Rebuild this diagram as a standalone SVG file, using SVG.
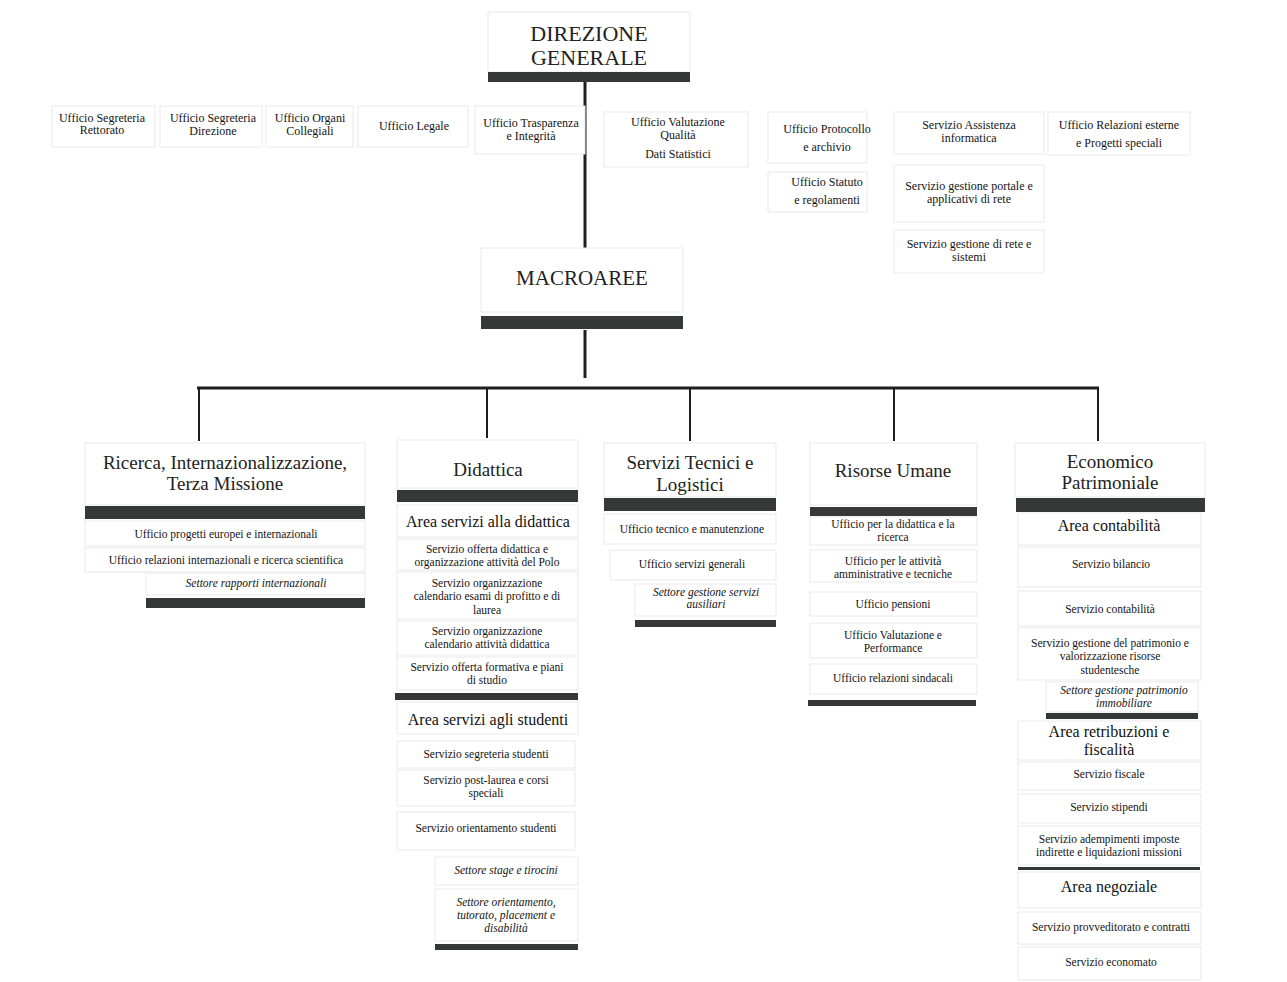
<svg xmlns="http://www.w3.org/2000/svg" width="1287" height="982" viewBox="0 0 1287 982">
<style>
.bg{fill:#ffffff}
.box{fill:#ffffff;stroke:#e9e9e9;stroke-width:1}
.bar{fill:#363838}
.ln{stroke:#1e1e1e;fill:none}
text{font-family:"Liberation Serif","Times New Roman",serif;fill:#141414;text-anchor:middle}
.s{font-size:12px}
.i{font-size:11.5px}
.it{font-size:11.5px;font-style:italic}
.h{font-size:19px;fill:#222}
.a{font-size:16px;fill:#111}
.big{font-size:22px;fill:#222}
</style>
<rect class="bg" x="0" y="0" width="1287" height="982"/>

<g id="connectors">
<line class="ln" x1="585" y1="82" x2="585" y2="248" stroke-width="3"/>
<line class="ln" x1="585" y1="330" x2="585" y2="378" stroke-width="3"/>
<line class="ln" x1="197" y1="388" x2="1099" y2="388" stroke-width="3"/>
<line class="ln" x1="199" y1="388" x2="199" y2="441" stroke-width="2"/>
<line class="ln" x1="487" y1="388" x2="487" y2="438" stroke-width="2"/>
<line class="ln" x1="690" y1="388" x2="690" y2="441" stroke-width="2"/>
<line class="ln" x1="894" y1="388" x2="894" y2="441" stroke-width="2"/>
<line class="ln" x1="1098" y1="388" x2="1098" y2="441" stroke-width="2"/>
</g>

<g id="direzione-generale">
<rect class="box" x="488" y="12" width="202" height="60"/>
<rect class="bar" x="488" y="72" width="202" height="10"/>
<text class="big" x="589" y="41">DIREZIONE</text>
<text class="big" x="589" y="65">GENERALE</text>
</g>

<g id="macroaree">
<rect class="box" x="481" y="248" width="202" height="64"/>
<rect class="bar" x="481" y="316" width="202" height="13"/>
<text class="big" x="582" y="285" style="font-size:21px">MACROAREE</text>
</g>

<g id="uff-segreteria-rettorato">
<rect class="box" x="52" y="106" width="103" height="41"/>
<text class="s" x="102" y="122">Ufficio Segreteria</text>
<text class="s" x="102" y="134">Rettorato</text>
</g>
<g id="uff-segreteria-direzione">
<rect class="box" x="160" y="106" width="102" height="41"/>
<text class="s" x="213" y="122">Ufficio Segreteria</text>
<text class="s" x="213" y="135">Direzione</text>
</g>
<g id="uff-organi-collegiali">
<rect class="box" x="266" y="106" width="87" height="41"/>
<text class="s" x="310" y="122">Ufficio Organi</text>
<text class="s" x="310" y="135">Collegiali</text>
</g>
<g id="uff-legale">
<rect class="box" x="358" y="106" width="110" height="41"/>
<text class="s" x="414" y="130">Ufficio Legale</text>
</g>
<g id="uff-trasparenza">
<rect class="box" x="475" y="106" width="110" height="48"/>
<text class="s" x="531" y="127">Ufficio Trasparenza</text>
<text class="s" x="531" y="140">e Integrità</text>
</g>
<g id="uff-valutazione-qualita">
<rect class="box" x="604" y="112" width="144" height="55"/>
<text class="s" x="678" y="126">Ufficio Valutazione</text>
<text class="s" x="678" y="139">Qualità</text>
<text class="s" x="678" y="158">Dati Statistici</text>
</g>
<g id="uff-protocollo">
<rect class="box" x="768" y="112" width="99" height="51"/>
<text class="s" x="827" y="133">Ufficio Protocollo</text>
<text class="s" x="827" y="151">e archivio</text>
</g>
<g id="uff-statuto">
<rect class="box" x="768" y="172" width="99" height="40"/>
<text class="s" x="827" y="186">Ufficio Statuto</text>
<text class="s" x="827" y="204">e regolamenti</text>
</g>
<g id="serv-assistenza-informatica">
<rect class="box" x="894" y="112" width="150" height="42"/>
<text class="s" x="969" y="129">Servizio Assistenza</text>
<text class="s" x="969" y="142">informatica</text>
</g>
<g id="serv-gestione-portale">
<rect class="box" x="894" y="165" width="150" height="57"/>
<text class="s" x="969" y="190">Servizio gestione portale e</text>
<text class="s" x="969" y="203">applicativi di rete</text>
</g>
<g id="serv-gestione-rete">
<rect class="box" x="894" y="230" width="150" height="43"/>
<text class="s" x="969" y="248">Servizio gestione di rete e</text>
<text class="s" x="969" y="261">sistemi</text>
</g>
<g id="uff-relazioni-esterne">
<rect class="box" x="1048" y="112" width="142" height="43"/>
<text class="s" x="1119" y="129">Ufficio Relazioni esterne</text>
<text class="s" x="1119" y="147">e Progetti speciali</text>
</g>

<g id="ricerca">
<rect class="box" x="85" y="443" width="280" height="62"/>
<text class="h" x="225" y="469">Ricerca, Internazionalizzazione,</text>
<text class="h" x="225" y="490">Terza Missione</text>
<rect class="bar" x="85" y="506" width="280" height="13"/>
<rect class="box" x="85" y="521" width="280" height="25"/>
<text class="i" x="226" y="538">Ufficio progetti europei e internazionali</text>
<rect class="box" x="85" y="548" width="280" height="24"/>
<text class="i" x="226" y="564">Ufficio relazioni internazionali e ricerca scientifica</text>
<rect class="box" x="146" y="573" width="219" height="22"/>
<text class="it" x="256" y="587">Settore rapporti internazionali</text>
<rect class="bar" x="146" y="598" width="219" height="10"/>
</g>

<g id="didattica">
<rect class="box" x="397" y="440" width="181" height="48"/>
<text class="h" x="488" y="476">Didattica</text>
<rect class="bar" x="397" y="490" width="181" height="12"/>
<rect class="box" x="397" y="505" width="181" height="32"/>
<text class="a" x="488" y="527">Area servizi alla didattica</text>
<rect class="box" x="397" y="539" width="181" height="31"/>
<text class="i" x="487" y="553">Servizio offerta didattica e</text>
<text class="i" x="487" y="566">organizzazione attività del Polo</text>
<rect class="box" x="397" y="572" width="181" height="47"/>
<text class="i" x="487" y="587">Servizio organizzazione</text>
<text class="i" x="487" y="600">calendario esami di profitto e di</text>
<text class="i" x="487" y="614">laurea</text>
<rect class="box" x="397" y="621" width="181" height="34"/>
<text class="i" x="487" y="635">Servizio organizzazione</text>
<text class="i" x="487" y="648">calendario attività didattica</text>
<rect class="box" x="397" y="657" width="181" height="33"/>
<text class="i" x="487" y="671">Servizio offerta formativa e piani</text>
<text class="i" x="487" y="684">di studio</text>
<rect class="bar" x="395" y="693" width="183" height="7"/>
<rect class="box" x="397" y="702" width="181" height="32"/>
<text class="a" x="488" y="725">Area servizi agli studenti</text>
<rect class="box" x="397" y="741" width="178" height="27"/>
<text class="i" x="486" y="758">Servizio segreteria studenti</text>
<rect class="box" x="397" y="770" width="178" height="36"/>
<text class="i" x="486" y="784">Servizio post-laurea e corsi</text>
<text class="i" x="486" y="797">speciali</text>
<rect class="box" x="397" y="812" width="178" height="38"/>
<text class="i" x="486" y="832">Servizio orientamento studenti</text>
<rect class="box" x="435" y="857" width="143" height="28"/>
<text class="it" x="506" y="874">Settore stage e tirocini</text>
<rect class="box" x="435" y="889" width="143" height="52"/>
<text class="it" x="506" y="906">Settore orientamento,</text>
<text class="it" x="506" y="919">tutorato, placement e</text>
<text class="it" x="506" y="932">disabilità</text>
<rect class="bar" x="435" y="944" width="143" height="6"/>
</g>

<g id="servizi-tecnici">
<rect class="box" x="604" y="443" width="172" height="54"/>
<text class="h" x="690" y="469">Servizi Tecnici e</text>
<text class="h" x="690" y="491">Logistici</text>
<rect class="bar" x="604" y="498" width="172" height="13"/>
<rect class="box" x="604" y="514" width="172" height="30"/>
<text class="i" x="692" y="533">Ufficio tecnico e manutenzione</text>
<rect class="box" x="610" y="550" width="166" height="30"/>
<text class="i" x="692" y="568">Ufficio servizi generali</text>
<rect class="box" x="635" y="584" width="141" height="32"/>
<text class="it" x="706" y="596">Settore gestione servizi</text>
<text class="it" x="706" y="608">ausiliari</text>
<rect class="bar" x="635" y="620" width="141" height="7"/>
</g>

<g id="risorse-umane">
<rect class="box" x="810" y="443" width="167" height="62"/>
<text class="h" x="893" y="477">Risorse Umane</text>
<rect class="bar" x="810" y="507" width="167" height="9"/>
<rect class="box" x="810" y="517" width="167" height="28"/>
<text class="i" x="893" y="528">Ufficio per la didattica e la</text>
<text class="i" x="893" y="541">ricerca</text>
<rect class="box" x="810" y="550" width="167" height="32"/>
<text class="i" x="893" y="565">Ufficio per le attività</text>
<text class="i" x="893" y="578">amministrative e tecniche</text>
<rect class="box" x="810" y="592" width="167" height="24"/>
<text class="i" x="893" y="608">Ufficio pensioni</text>
<rect class="box" x="810" y="623" width="167" height="35"/>
<text class="i" x="893" y="639">Ufficio Valutazione e</text>
<text class="i" x="893" y="652">Performance</text>
<rect class="box" x="810" y="664" width="167" height="30"/>
<text class="i" x="893" y="682">Ufficio relazioni sindacali</text>
<rect class="bar" x="808" y="700" width="168" height="6"/>
</g>

<g id="economico-patrimoniale">
<rect class="box" x="1015" y="443" width="190" height="54"/>
<text class="h" x="1110" y="468">Economico</text>
<text class="h" x="1110" y="489">Patrimoniale</text>
<rect class="bar" x="1016" y="498" width="189" height="14"/>
<rect class="box" x="1018" y="513" width="183" height="32"/>
<text class="a" x="1109" y="531">Area contabilità</text>
<rect class="box" x="1018" y="547" width="183" height="40"/>
<text class="i" x="1111" y="568">Servizio bilancio</text>
<rect class="box" x="1018" y="591" width="183" height="35"/>
<text class="i" x="1110" y="613">Servizio contabilità</text>
<rect class="box" x="1018" y="628" width="183" height="52"/>
<text class="i" x="1110" y="647">Servizio gestione del patrimonio e</text>
<text class="i" x="1110" y="660">valorizzazione risorse</text>
<text class="i" x="1110" y="674">studentesche</text>
<rect class="box" x="1046" y="682" width="152" height="30"/>
<text class="it" x="1124" y="694">Settore gestione patrimonio</text>
<text class="it" x="1124" y="707">immobiliare</text>
<rect class="bar" x="1046" y="713" width="152" height="6"/>
<rect class="box" x="1018" y="721" width="183" height="39"/>
<text class="a" x="1109" y="737">Area retribuzioni e</text>
<text class="a" x="1109" y="755">fiscalità</text>
<rect class="box" x="1018" y="762" width="183" height="28"/>
<text class="i" x="1109" y="778">Servizio fiscale</text>
<rect class="box" x="1018" y="794" width="183" height="29"/>
<text class="i" x="1109" y="811">Servizio stipendi</text>
<rect class="box" x="1018" y="826" width="183" height="39"/>
<text class="i" x="1109" y="843">Servizio adempimenti imposte</text>
<text class="i" x="1109" y="856">indirette e liquidazioni missioni</text>
<rect class="bar" x="1018" y="867" width="182" height="3"/>
<rect class="box" x="1018" y="872" width="183" height="36"/>
<text class="a" x="1109" y="892">Area negoziale</text>
<rect class="box" x="1018" y="912" width="183" height="32"/>
<text class="i" x="1111" y="931">Servizio provveditorato e contratti</text>
<rect class="box" x="1018" y="947" width="183" height="33"/>
<text class="i" x="1111" y="966">Servizio economato</text>
</g>
</svg>
